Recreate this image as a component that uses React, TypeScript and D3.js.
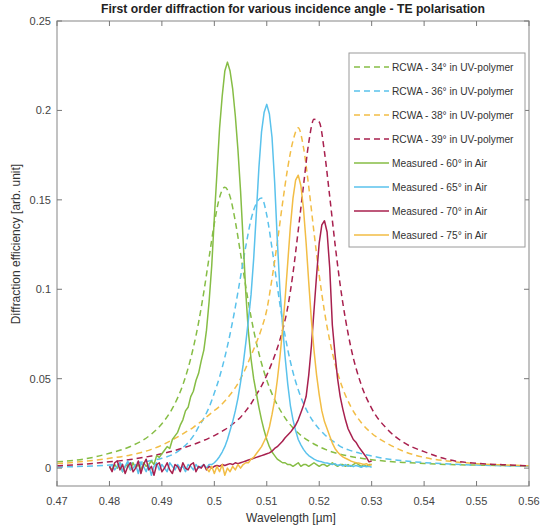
import React from 'react';
import * as d3 from 'd3';

// ---------- DATA ----------
const titleText = 'First order diffraction for various incidence angle - TE polarisation';
const xLabel = 'Wavelength [\u00b5m]';
const yLabel = 'Diffraction efficiency [arb. unit]';

const xTicks = [0.47, 0.48, 0.49, 0.5, 0.51, 0.52, 0.53, 0.54, 0.55, 0.56];
const xTickLabels = ['0.47', '0.48', '0.49', '0.5', '0.51', '0.52', '0.53', '0.54', '0.55', '0.56'];
const yTicks = [0, 0.05, 0.1, 0.15, 0.2, 0.25];
const yTickLabels = ['0', '0.05', '0.1', '0.15', '0.2', '0.25'];

// RCWA simulated spectra (shared wavelength grid)
const rcwaX = [0.470, 0.475, 0.480, 0.484, 0.488, 0.490, 0.492, 0.494, 0.496, 0.497, 0.498, 0.499, 0.500, 0.501, 0.502, 0.503, 0.504, 0.505, 0.506, 0.507, 0.508, 0.509, 0.510, 0.511, 0.512, 0.513, 0.514, 0.515, 0.516, 0.517, 0.518, 0.519, 0.520, 0.521, 0.522, 0.523, 0.524, 0.526, 0.528, 0.530, 0.533, 0.536, 0.540, 0.545, 0.550, 0.555, 0.560];
const rcwa34 = [0.0035, 0.005, 0.0083, 0.0121, 0.019, 0.0248, 0.0334, 0.0466, 0.0674, 0.0815, 0.0986, 0.1178, 0.1368, 0.1514, 0.157, 0.1518, 0.138, 0.12, 0.1014, 0.0845, 0.0703, 0.0586, 0.0492, 0.0415, 0.0354, 0.0303, 0.026, 0.0225, 0.0196, 0.0172, 0.0152, 0.0135, 0.012, 0.0107, 0.0095, 0.0086, 0.0078, 0.0065, 0.0055, 0.0047, 0.0038, 0.0032, 0.0026, 0.002, 0.0017, 0.0014, 0.0012];
const rcwa36 = [0.0006, 0.001, 0.0017, 0.0027, 0.0042, 0.0055, 0.0075, 0.0115, 0.018, 0.023, 0.028, 0.034, 0.042, 0.051, 0.062, 0.075, 0.09, 0.107, 0.124, 0.139, 0.148, 0.151, 0.1414, 0.1229, 0.1018, 0.0823, 0.0663, 0.0536, 0.0438, 0.0361, 0.0302, 0.0255, 0.0218, 0.0188, 0.0164, 0.0143, 0.0122, 0.0098, 0.0081, 0.0068, 0.0051, 0.0041, 0.0031, 0.0023, 0.0017, 0.0013, 0.001];
const rcwa38 = [0.0025, 0.0037, 0.0055, 0.0073, 0.0105, 0.0128, 0.0158, 0.0192, 0.0228, 0.025, 0.0273, 0.0298, 0.0322, 0.0345, 0.0375, 0.041, 0.045, 0.05, 0.056, 0.063, 0.07, 0.078, 0.0885, 0.106, 0.126, 0.148, 0.168, 0.183, 0.1903, 0.1793, 0.1574, 0.1319, 0.1079, 0.0876, 0.0714, 0.0586, 0.0486, 0.0345, 0.0255, 0.0195, 0.0138, 0.0095, 0.006, 0.0038, 0.0025, 0.0018, 0.0013];
const rcwa39 = [0.0013, 0.0022, 0.0035, 0.0048, 0.0068, 0.008, 0.0095, 0.0112, 0.0132, 0.0143, 0.0155, 0.0168, 0.0182, 0.0198, 0.0215, 0.0235, 0.0258, 0.0285, 0.032, 0.036, 0.041, 0.046, 0.052, 0.059, 0.067, 0.077, 0.09, 0.109, 0.133, 0.158, 0.182, 0.195, 0.1935, 0.1768, 0.1519, 0.1257, 0.1024, 0.068, 0.0467, 0.0334, 0.0217, 0.0145, 0.0092, 0.0045, 0.0027, 0.0019, 0.0013];

// Measured spectra: sampled from 0.480 µm every 0.0005 µm up to 0.530 µm
const measStart = 0.48;
const measStep = 0.0005;
const meas60 = [
  0.001, -0.001, 0.002, 0.000, 0.003, -0.002, 0.001, 0.002, -0.001, 0.003, 0.000, 0.002, -0.001, 0.003, 0.001, 0.002,
  0.004, 0.002, 0.007, 0.006, 0.008, 0.010, 0.012, 0.011, 0.016, 0.018,
  0.020, 0.024, 0.027, 0.032, 0.034, 0.040, 0.043, 0.049, 0.053, 0.060,
  0.066, 0.077, 0.093, 0.113, 0.14, 0.165, 0.19, 0.208, 0.222, 0.227,
  0.222, 0.212, 0.197, 0.178, 0.155, 0.127, 0.098, 0.076, 0.061, 0.05,
  0.042, 0.034, 0.027, 0.021, 0.016, 0.012, 0.009, 0.007, 0.005, 0.004,
  0.003,
  0.003, 0.002, 0.002, 0.001, 0.002, 0.003, 0.001, 0.002, 0.002, 0.001, 0.002, 0.003, 0.002, 0.001, 0.002, 0.002, 0.001,
  0.002, 0.003, 0.002, 0.001, 0.002, 0.002, 0.001, 0.002, 0.001, 0.002, 0.003, 0.002, 0.001, 0.002, 0.001, 0.002, 0.002,
];
const meas65 = [
  0.000, 0.002, -0.001, 0.001, 0.003, -0.002, 0.001, 0.004, -0.001, 0.000, 0.002, -0.003, 0.003, 0.001, -0.002, 0.002, -0.004, 0.001, 0.003, -0.001,
  0.002, 0.000, -0.002, 0.003, 0.001, -0.001, 0.002, 0.000, 0.001, -0.002, 0.002, 0.001, -0.001, 0.002, 0.000, 0.001, 0.002, 0.000, 0.002, 0.002,
  0.003, 0.0045, 0.0065, 0.009, 0.012, 0.016, 0.021, 0.026, 0.032, 0.039,
  0.048, 0.058, 0.07, 0.083, 0.097, 0.117, 0.142, 0.168, 0.188, 0.199,
  0.2034, 0.198, 0.185, 0.16, 0.128, 0.1, 0.08, 0.062, 0.047, 0.035,
  0.027, 0.021, 0.016, 0.013, 0.0105, 0.0085, 0.007, 0.006, 0.005, 0.0043,
  0.0038, 0.0035, 0.003, 0.0028, 0.0025, 0.002, 0.0025, 0.0015, 0.002, 0.0012,
  0.002, 0.001, 0.0015, 0.0008, 0.0015, 0.001, 0.0005, 0.0012, 0.0008, 0.001,
  0.0005,
];
const meas70 = [
  0.001, -0.002, 0.003, 0.004, -0.001, 0.002, -0.003, 0.001, 0.003, -0.002, 0.000, 0.004, -0.003, 0.002, 0.005, -0.001, 0.001, -0.004, 0.002, 0.003,
  -0.002, 0.000, 0.003, -0.001, -0.003, 0.002, 0.001, -0.002, 0.003, 0.000, -0.001, 0.002, 0.003, -0.002, 0.001, 0.000, 0.002, -0.001, 0.001, 0.000,
  0.001, 0.0015, 0.001, 0.002, 0.0015, 0.002, 0.0025, 0.002, 0.003, 0.0025,
  0.003, 0.0035, 0.004, 0.0045, 0.005, 0.0055, 0.006, 0.0065, 0.007, 0.0075,
  0.008, 0.0085, 0.0095, 0.011, 0.012, 0.0135, 0.015, 0.017, 0.0185, 0.02,
  0.022, 0.024, 0.027, 0.031, 0.035, 0.04, 0.052, 0.068, 0.088, 0.108,
  0.126, 0.136, 0.1383, 0.132, 0.112, 0.08, 0.064, 0.05, 0.04, 0.033,
  0.027, 0.022, 0.019, 0.016, 0.0145, 0.012, 0.01, 0.008, 0.006, 0.0035,
  0.004,
];
const meas75 = [
  null, null, null, null, null, null, null, null, null, null, null, null, null, null, null, null, null, null, null, null,
  null, null, null, null, null, null, null, null, null, null, null, null, null, null, null, null, null,
  0.000, -0.002, 0.001, -0.003, 0.001, -0.002, 0.002, -0.004, 0.000, -0.002,
  0.001, -0.001, 0.002, 0.000, 0.002, 0.003, 0.003, 0.005, 0.006, 0.008,
  0.010, 0.012, 0.015, 0.018, 0.023, 0.03, 0.038, 0.049, 0.062, 0.077,
  0.095, 0.115, 0.135, 0.151, 0.161, 0.1638, 0.158, 0.145, 0.126, 0.104,
  0.083, 0.066, 0.052, 0.041, 0.032, 0.026, 0.022, 0.018, 0.014, 0.011,
  0.009, 0.0075, 0.0063, 0.0055, 0.0048, 0.004, 0.0035, 0.003, 0.0028, 0.0025,
  0.002, 0.0025, 0.0015, 0.002,
];

const seriesNames = [
  'RCWA - 34\u00b0 in UV-polymer',
  'RCWA - 36\u00b0 in UV-polymer',
  'RCWA - 38\u00b0 in UV-polymer',
  'RCWA - 39\u00b0 in UV-polymer',
  'Measured - 60\u00b0 in Air',
  'Measured - 65\u00b0 in Air',
  'Measured - 70\u00b0 in Air',
  'Measured - 75\u00b0 in Air',
];
const seriesColors = ['#86bd45', '#5ac2ec', '#f2bd45', '#a8204e', '#86bd45', '#5ac2ec', '#a8204e', '#f2bd45'];

// ---------- LAYOUT ----------
const W = 540;
const H = 527;
const left = 57;
const right = 529;
const top = 21;
const bottom = 486;
const FONT = '"Liberation Sans", Arial, Helvetica, sans-serif';

export default function App() {
  const x = d3.scaleLinear().domain([0.47, 0.56]).range([left, right]);
  const y = d3.scaleLinear().domain([-0.01, 0.25]).range([bottom, top]);

  const rcwaSeries = [rcwa34, rcwa36, rcwa38, rcwa39].map((vals) =>
    rcwaX.map((xv, i) => [xv, vals[i]] as [number, number]).filter((d) => d[1] != null)
  );
  const measSeries = [meas60, meas65, meas70, meas75].map((vals) =>
    vals.map((v, i) => [measStart + i * measStep, v] as [number, number | null])
  );

  const smooth = d3
    .line<[number, number]>()
    .x((d) => x(d[0]))
    .y((d) => y(d[1]))
    .curve(d3.curveMonotoneX);
  const raw = d3
    .line<[number, number | null]>()
    .defined((d) => d[1] != null)
    .x((d) => x(d[0]))
    .y((d) => y(d[1] as number));

  const tickLen = 5;
  const legX = 349;
  const legY = 53;
  const legW = 176;
  const legH = 194;
  const rowH = 24;

  return (
    <svg width={W} height={H} style={{ display: 'block', position: 'absolute', left: 0, top: 0, background: '#fff' }} fontFamily={FONT}>
      <defs>
        <clipPath id="plotClip">
          <rect x={left} y={top} width={right - left} height={bottom - top} />
        </clipPath>
      </defs>
      <rect x={0} y={0} width={W} height={H} fill="#fff" />
      <text x={(left + right) / 2} y={13} textAnchor="middle" fontSize={12.2} fontWeight="bold" fill="#222">
        {titleText}
      </text>

      {/* curves */}
      <g clipPath="url(#plotClip)" fill="none">
        {rcwaSeries.map((s, i) => (
          <path key={'r' + i} d={smooth(s) || ''} stroke={seriesColors[i]} strokeWidth={1.5} strokeDasharray="6,4" />
        ))}
        {measSeries.map((s, i) => (
          <path key={'m' + i} d={raw(s) || ''} stroke={seriesColors[i + 4]} strokeWidth={1.5} strokeLinejoin="round" />
        ))}
      </g>

      {/* axes box */}
      <rect x={left} y={top} width={right - left} height={bottom - top} fill="none" stroke="#9a9a9a" strokeWidth={1.2} />
      {xTicks.map((t, i) => (
        <g key={'xt' + i}>
          <line x1={x(t)} x2={x(t)} y1={bottom} y2={bottom - tickLen} stroke="#777" />
          <line x1={x(t)} x2={x(t)} y1={top} y2={top + tickLen} stroke="#777" />
          <text x={x(t)} y={bottom + 19} textAnchor="middle" fontSize={11} fill="#444">
            {xTickLabels[i]}
          </text>
        </g>
      ))}
      {yTicks.map((t, i) => (
        <g key={'yt' + i}>
          <line x1={left} x2={left + tickLen} y1={y(t)} y2={y(t)} stroke="#777" />
          <line x1={right} x2={right - tickLen} y1={y(t)} y2={y(t)} stroke="#777" />
          <text x={left - 6} y={y(t) + 4} textAnchor="end" fontSize={11} fill="#444">
            {yTickLabels[i]}
          </text>
        </g>
      ))}
      <text x={(left + right) / 2 - 2} y={522} textAnchor="middle" fontSize={12} fill="#333">
        {xLabel}
      </text>
      <text transform={`translate(20, ${244}) rotate(-90)`} textAnchor="middle" fontSize={12} fill="#333">
        {yLabel}
      </text>

      {/* legend */}
      <rect x={legX} y={legY} width={legW} height={legH} fill="#fff" stroke="#9a9a9a" strokeWidth={1} />
      {seriesNames.map((name, i) => {
        const cy = legY + 14 + i * rowH;
        const dashed = i < 4;
        return (
          <g key={'lg' + i}>
            <line x1={legX + 5} x2={legX + 40} y1={cy} y2={cy} stroke={seriesColors[i]} strokeWidth={1.5} strokeDasharray={dashed ? '6,4' : undefined} />
            <text x={legX + 43} y={cy + 3.5} fontSize={10.2} fill="#333">
              {name}
            </text>
          </g>
        );
      })}
    </svg>
  );
}
